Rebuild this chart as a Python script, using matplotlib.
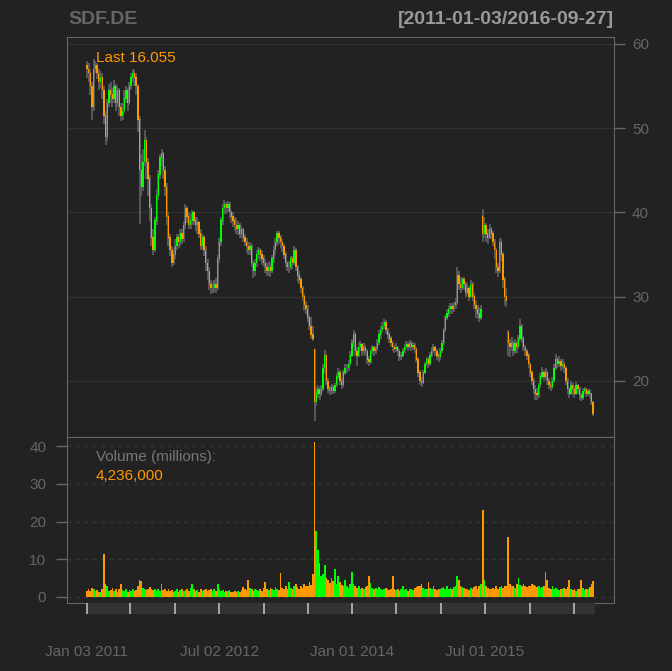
import numpy as np
import pandas as pd
import matplotlib
matplotlib.use("Agg")
import matplotlib.pyplot as plt
import matplotlib.dates as mdates
from matplotlib.transforms import blended_transform_factory

plt.rcParams['font.family'] = ['Liberation Sans', 'DejaVu Sans']

# weekly bars, SDF.DE 2011-01-03 .. 2016-09-27
close = [
    # 2011
    57.0, 56.5, 55.0, 52.5, 57.0, 57.5, 56.5, 55.5, 56.0, 54.5,
    51.5, 49.0, 53.0, 54.5, 54.0, 53.5, 55.0, 53.0, 54.5, 52.5,
    51.5, 52.0, 53.5, 54.5, 53.0, 55.0, 56.0, 56.5, 56.0, 55.0,
    51.0, 45.0, 43.0, 46.0, 48.5, 46.0, 44.0, 40.5, 37.0, 35.5,
    39.0, 42.0, 44.5, 46.5, 47.0, 45.0, 43.0, 39.5, 37.0, 35.5, 34.0, 35.0,
    # 2012
    36.0, 37.0, 36.5, 37.5, 36.8, 38.5, 40.5, 39.5, 38.5, 39.0,
    40.0, 39.0, 38.5, 38.8, 37.5, 36.0, 37.0, 35.5, 34.0, 33.0,
    31.5, 31.0, 31.0, 31.5, 31.0, 34.5, 36.5, 39.0, 40.5, 41.0,
    40.5, 41.0, 40.0, 39.5, 39.0, 38.5, 38.0, 38.5, 37.5, 38.0,
    37.0, 36.5, 36.0, 35.5, 36.0, 34.0, 33.0, 34.0, 35.0, 35.5, 35.0, 34.5,
    # 2013
    34.0, 33.5, 33.0, 33.5, 33.0, 34.5, 35.5, 36.5, 37.5, 37.0,
    36.5, 36.0, 35.0, 34.0, 33.5, 33.5, 34.5, 34.0, 35.5, 33.5,
    32.5, 32.0, 31.0, 30.0, 29.0, 28.5, 27.5, 26.5, 25.5, 25.0,
    17.5, 18.5, 19.0, 18.5, 19.0, 21.5, 23.0, 20.0, 19.0, 18.8,
    19.2, 18.8, 19.5, 20.5, 21.0, 20.0, 19.5, 21.0, 21.5, 21.5, 22.0, 23.0,
    # 2014
    24.5, 25.5, 23.5, 23.0, 24.0, 24.3, 23.5, 24.0, 23.5, 22.5,
    22.3, 23.5, 24.0, 23.5, 23.8, 24.5, 25.5, 26.0, 26.5, 27.0,
    26.0, 25.5, 25.0, 24.5, 24.0, 23.8, 24.0, 23.5, 22.8, 23.0,
    23.5, 24.0, 24.3, 24.0, 24.5, 24.0, 24.2, 23.8, 22.5, 21.0,
    20.0, 19.8, 21.0, 22.0, 22.5, 22.0, 23.0, 23.5, 24.0, 23.5, 23.0, 22.8,
    # 2015
    23.5, 24.5, 26.0, 27.5, 28.0, 28.5, 28.8, 28.5, 29.0, 29.3,
    32.5, 31.5, 31.0, 32.0, 31.5, 30.5, 31.0, 30.0, 31.5, 30.0,
    29.0, 28.5, 28.0, 27.5, 28.5, 37.5, 38.5, 37.5, 37.0, 38.0,
    37.5, 36.5, 35.5, 33.5, 33.0, 36.5, 35.0, 32.0, 30.0, 29.5,
    24.5, 24.0, 24.5, 23.5, 24.5, 24.0, 25.0, 26.5, 25.0, 24.0, 23.5, 23.0,
    # 2016
    22.0, 21.0, 20.0, 19.0, 18.5, 18.3, 19.5, 20.5, 21.0, 20.5,
    21.0, 20.0, 19.5, 19.3, 20.0, 21.5, 22.5, 22.0, 22.3, 21.8,
    22.0, 21.5, 20.0, 19.0, 18.5, 19.5, 19.0, 18.5, 19.5, 19.0,
    18.3, 18.0, 18.8, 19.0, 18.5, 18.8, 18.5, 17.5, 16.055,
]

high = [
    58.0, 57.8, 57.0, 55.5, 58.2, 58.0, 57.8, 57.0, 56.8, 56.5,
    55.0, 52.0, 53.5, 55.2, 55.5, 54.8, 55.7, 55.3, 55.0, 54.8,
    53.0, 53.0, 54.5, 55.0, 54.8, 55.5, 56.5, 57.0, 56.9, 56.5,
    55.2, 51.5, 47.0, 47.5, 49.8, 49.0, 46.5, 44.5, 41.0, 38.0,
    39.5, 42.8, 45.0, 47.0, 47.5, 47.2, 45.5, 43.5, 40.0, 37.5, 36.0, 35.8,
    36.8, 37.5, 37.5, 38.0, 38.0, 39.0, 41.0, 40.8, 40.0, 39.8,
    40.3, 40.2, 39.5, 39.5, 39.0, 38.0, 37.5, 37.3, 36.0, 34.5,
    33.5, 32.0, 31.8, 32.0, 32.2, 35.0, 37.0, 39.5, 41.0, 41.5,
    41.3, 41.4, 41.2, 40.3, 40.0, 39.5, 39.3, 39.0, 38.8, 38.5,
    38.2, 37.5, 37.0, 36.5, 36.5, 36.2, 34.3, 34.5, 35.5, 35.9, 35.8, 35.5,
    35.0, 34.5, 34.0, 34.2, 34.0, 35.0, 36.0, 37.0, 37.8, 37.8,
    37.3, 36.8, 36.3, 35.3, 34.3, 34.2, 34.8, 34.8, 36.0, 35.8,
    33.8, 33.0, 32.3, 31.3, 30.3, 29.5, 29.0, 27.8, 27.6, 26.5,
    23.8, 19.3, 19.5, 19.3, 19.5, 22.0, 23.7, 23.2, 20.3, 19.4,
    19.6, 19.5, 19.8, 21.0, 21.5, 21.3, 20.3, 21.3, 22.0, 22.0, 22.5, 23.5,
    25.0, 26.1, 25.8, 24.0, 24.5, 24.7, 24.5, 24.5, 24.3, 23.8,
    23.0, 23.8, 24.3, 24.2, 24.2, 25.0, 26.0, 26.5, 27.0, 27.4,
    27.2, 26.3, 25.8, 25.3, 24.8, 24.3, 24.5, 24.2, 23.8, 23.4,
    23.9, 24.4, 24.8, 24.6, 24.9, 24.8, 24.6, 24.5, 24.0, 22.8,
    21.3, 20.5, 21.3, 22.3, 22.9, 22.8, 23.4, 24.0, 24.4, 24.2, 23.8, 23.3,
    23.9, 24.9, 26.3, 27.8, 28.5, 28.9, 29.3, 29.2, 29.4, 29.8,
    33.5, 33.0, 32.2, 32.4, 32.3, 31.8, 31.6, 31.3, 32.0, 31.8,
    30.4, 29.6, 29.0, 28.8, 29.0, 40.4, 39.5, 38.8, 38.0, 38.6,
    38.3, 37.8, 36.8, 35.8, 34.0, 37.0, 36.8, 35.3, 32.3, 31.0,
    26.0, 25.0, 25.2, 24.8, 25.0, 24.8, 25.5, 27.4, 26.8, 25.3, 24.3, 23.8,
    23.3, 22.3, 21.3, 20.3, 19.5, 19.2, 19.8, 21.0, 21.7, 21.3,
    21.5, 21.2, 20.3, 19.9, 20.5, 22.0, 23.2, 22.8, 23.0, 22.6,
    22.6, 22.3, 21.8, 20.3, 19.3, 20.0, 19.8, 19.4, 19.9, 19.7,
    19.3, 18.6, 19.2, 19.3, 19.2, 19.1, 19.0, 18.6, 17.6,
]

low = [
    56.0, 55.5, 54.0, 51.0, 52.0, 56.5, 55.8, 54.5, 54.8, 53.5,
    50.5, 48.0, 48.5, 52.5, 53.0, 52.5, 53.0, 52.0, 52.5, 51.5,
    50.8, 51.0, 51.8, 53.0, 52.0, 52.8, 54.5, 55.5, 55.0, 54.0,
    49.5, 38.6, 42.0, 42.5, 45.5, 44.0, 42.0, 39.0, 36.0, 35.0,
    35.3, 38.5, 41.5, 44.0, 45.5, 44.0, 42.0, 38.5, 36.0, 34.8, 33.5, 33.8,
    34.5, 35.5, 35.8, 36.0, 36.2, 36.5, 38.0, 38.8, 38.0, 38.0,
    38.5, 38.5, 37.8, 37.5, 37.0, 35.5, 35.5, 34.8, 33.0, 32.0,
    30.8, 30.3, 30.4, 30.6, 30.5, 30.8, 34.0, 36.0, 38.5, 39.8,
    39.8, 40.0, 39.3, 38.8, 38.3, 37.8, 37.5, 37.3, 37.0, 37.0,
    36.5, 36.0, 35.3, 35.0, 35.0, 33.5, 32.2, 32.5, 33.5, 34.5, 34.2, 33.8,
    33.5, 32.8, 32.5, 32.5, 32.3, 32.8, 34.0, 35.0, 36.0, 36.3,
    35.8, 35.3, 34.5, 33.5, 33.0, 32.8, 33.2, 33.3, 33.8, 33.0,
    31.8, 31.5, 30.5, 29.5, 28.3, 28.0, 27.0, 26.0, 25.0, 24.8,
    15.2, 17.0, 18.0, 17.8, 18.2, 18.8, 21.0, 19.5, 18.6, 18.3,
    18.5, 18.4, 18.6, 19.3, 20.2, 19.5, 19.0, 19.3, 20.7, 21.0, 21.2, 21.8,
    22.8, 24.0, 23.0, 21.8, 22.8, 23.5, 23.0, 23.2, 23.0, 22.0,
    21.8, 22.0, 23.2, 23.0, 23.2, 23.5, 24.3, 25.0, 25.7, 26.2,
    25.6, 25.0, 24.5, 24.0, 23.5, 23.3, 23.4, 23.0, 22.4, 22.5,
    22.8, 23.3, 23.8, 23.6, 23.8, 23.6, 23.7, 23.3, 22.2, 20.5,
    19.5, 19.3, 19.6, 20.8, 21.8, 21.5, 21.8, 22.8, 23.3, 23.0, 22.5, 22.3,
    22.5, 23.3, 24.3, 25.8, 27.2, 27.6, 28.0, 28.0, 28.2, 28.6,
    29.0, 30.8, 30.5, 30.8, 30.8, 30.0, 30.2, 29.5, 29.8, 29.5,
    28.5, 27.5, 27.3, 27.0, 27.2, 36.5, 37.0, 36.5, 36.3, 36.8,
    36.8, 36.0, 34.5, 32.8, 32.4, 32.8, 34.3, 31.0, 29.0, 28.8,
    23.0, 22.9, 23.5, 23.0, 23.2, 23.3, 23.8, 24.8, 24.5, 23.5, 23.0, 22.5,
    21.5, 20.5, 19.5, 18.5, 17.8, 17.8, 18.0, 19.2, 20.2, 20.0,
    20.2, 19.5, 19.0, 18.8, 19.0, 19.8, 21.3, 21.5, 21.7, 21.2,
    21.4, 21.0, 19.5, 18.5, 18.0, 18.3, 18.3, 18.0, 18.3, 18.5,
    17.8, 17.6, 17.8, 18.4, 18.1, 18.2, 18.0, 17.2, 15.9,
]

# opens follow the previous close except where the chart shows a gap
gap_open = {0: 57.5, 134: 23.8, 233: 39.5, 248: 25.8}

# volume in millions
volume = [
    1.5, 2.0, 1.6, 2.5, 2.2, 1.5, 1.8, 1.4, 1.3, 2.0,
    11.5, 3.5, 2.8, 1.6, 1.8, 2.4, 1.5, 2.0, 1.4, 2.2,
    3.5, 1.8, 1.6, 2.0, 1.4, 1.8, 1.6, 2.2, 1.5, 1.8,
    2.8, 4.6, 4.2, 2.5, 2.0, 1.8, 2.2, 2.6, 2.0, 1.8,
    2.2, 1.6, 2.0, 1.5, 3.5, 1.8, 2.0, 1.6, 2.2, 1.5, 1.8, 1.4,
    1.6, 2.0, 1.4, 1.8, 2.2, 1.5, 1.8, 2.0, 1.6, 2.4,
    3.5, 2.0, 1.6, 1.8, 1.4, 2.0, 1.5, 1.8, 2.2, 1.6,
    1.8, 2.0, 1.5, 2.2, 1.6, 3.5, 2.0, 1.6, 1.8, 1.4,
    1.6, 1.5, 1.8, 1.3, 1.4, 1.6, 1.2, 1.5, 1.4, 1.8,
    2.7, 2.0, 1.8, 4.5, 2.4, 2.0, 1.6, 2.2, 1.8, 1.5, 2.0, 1.6,
    2.4, 4.0, 2.2, 1.8, 2.5, 2.0, 1.8, 2.6, 2.2, 1.8,
    6.3, 2.5, 2.0, 2.8, 2.2, 4.0, 2.4, 2.0, 3.0, 3.5,
    2.6, 2.2, 3.0, 2.5, 3.5, 2.8, 3.0, 4.0, 3.2, 6.0,
    41.0, 17.5, 12.5, 9.0, 5.5, 6.0, 8.5, 5.0, 4.5, 3.8,
    5.0, 4.2, 7.5, 3.5, 5.5, 4.0, 3.2, 2.8, 4.5, 3.0, 2.5, 3.5,
    6.5, 3.5, 3.0, 2.5, 2.8, 2.2, 2.5, 2.0, 2.6, 3.0,
    5.5, 3.8, 2.5, 2.0, 2.4, 2.0, 2.6, 2.2, 1.8, 2.0,
    2.4, 2.0, 1.8, 2.2, 5.5, 2.0, 1.8, 2.2, 1.6, 2.0,
    3.0, 1.8, 2.0, 1.6, 2.2, 2.0, 1.8, 2.4, 2.6, 3.0,
    2.8, 3.5, 2.4, 2.2, 2.0, 4.0, 2.5, 2.2, 2.8, 2.0, 1.8, 2.2,
    2.0, 2.4, 2.6, 2.2, 2.8, 2.0, 2.4, 2.2, 2.6, 3.0,
    5.5, 4.5, 3.0, 2.6, 2.4, 2.0, 2.2, 1.8, 2.4, 2.0,
    2.6, 2.8, 2.2, 3.0, 3.5, 23.0, 4.5, 3.0, 2.5, 2.2,
    2.0, 2.4, 2.2, 2.8, 2.0, 2.6, 3.0, 2.4, 2.8, 3.0,
    16.0, 3.5, 2.8, 3.0, 2.4, 3.5, 5.0, 3.2, 2.8, 3.5, 3.0, 2.6,
    3.0, 2.8, 3.5, 3.2, 3.0, 2.6, 2.8, 2.4, 2.6, 3.0,
    6.5, 4.5, 2.4, 2.0, 2.8, 2.2, 2.4, 2.0, 1.8, 2.2,
    2.0, 2.4, 2.0, 2.6, 4.5, 2.2, 1.8, 2.0, 1.6, 2.2,
    2.0, 4.5, 2.4, 1.8, 2.2, 2.0, 2.6, 3.5, 4.2,
]

label_dates = ['2011-01-03', '2012-07-02', '2014-01-01', '2015-07-01']
label_text = ['Jan 03 2011', 'Jul 02 2012', 'Jan 01 2014', 'Jul 01 2015']
minor_dates = ['2011-01-03', '2011-07-01', '2012-01-02', '2012-07-02',
               '2013-01-02', '2013-07-01', '2014-01-01', '2014-07-01',
               '2015-01-02', '2015-07-01', '2016-01-04', '2016-07-01']

n = len(close)
dates = mdates.date2num(pd.date_range('2011-01-03', periods=n, freq='7D'))
opn = np.array([gap_open.get(i, close[i - 1] if i > 0 else close[0]) for i in range(n)])
cl = np.array(close)
hi = np.array(high)
lo = np.array(low)
vol = np.array(volume)

BG = '#222222'
UP = '#00ff00'
DN = '#ff9900'
FG = '#666666'
cols = np.where(cl >= opn, UP, DN)

fig = plt.figure(figsize=(6.72, 6.71), dpi=100, facecolor=BG)
W, H = 672.0, 671.0
ax = fig.add_axes([67 / W, (H - 437) / H, 547 / W, 400 / H], facecolor=BG)
axv = fig.add_axes([67 / W, (H - 603) / H, 547 / W, 166 / H], facecolor=BG, sharex=ax)
axb = fig.add_axes([67 / W, (H - 614) / H, 547 / W, 11 / H], facecolor=BG, sharex=ax)

x0 = mdates.date2num(pd.Timestamp('2011-01-03'))
x1 = mdates.date2num(pd.Timestamp('2016-09-27'))
ax.set_xlim(x0 - 82, x1 + 78)

# price pane
for yv in [20, 30, 40, 50, 60]:
    ax.axhline(yv, color='#303030', lw=1, zorder=0)
ax.vlines(dates, lo, hi, color=FG, lw=1.1, zorder=1)
ax.bar(dates, np.abs(cl - opn) + 0.05, bottom=np.minimum(cl, opn), width=5.5,
       color=cols, linewidth=0, zorder=2)
ax.set_ylim(13.35, 60.83)
ax.yaxis.tick_right()
ax.set_yticks([20, 30, 40, 50, 60])
ax.tick_params(axis='y', colors=FG, labelcolor=FG, labelsize=11, length=8, width=1, pad=5)
ax.tick_params(axis='x', bottom=False, labelbottom=False)
for s in ax.spines.values():
    s.set_color(FG)
fig.text(96 / W, 1 - 58 / H, 'Last 16.055', color=DN, fontsize=11, va='center', ha='left')

# volume pane
for yv in [0, 10, 20, 30, 40]:
    axv.axhline(yv, color='#333333', lw=1, ls=(0, (3, 3)), zorder=0)
axv.bar(dates, vol, width=7, color=cols, linewidth=0, align='center', zorder=2)
axv.set_ylim(-1.6, 42.4)
axv.set_yticks([0, 10, 20, 30, 40])
axv.tick_params(axis='y', colors=FG, labelcolor=FG, labelsize=11, length=8, width=1, pad=7)
axv.tick_params(axis='x', bottom=False, labelbottom=False)
for s in axv.spines.values():
    s.set_color(FG)
fig.text(96 / W, 1 - 457 / H, 'Volume (millions):', color='#777777', fontsize=11, va='center')
fig.text(96 / W, 1 - 476 / H, '4,236,000', color=DN, fontsize=11, va='center')

# date band under the volume pane
axb.axvspan(x0, x1, color='#333333', lw=0)
axb.vlines(mdates.date2num(pd.to_datetime(minor_dates)), 0, 1, color='#bbbbbb', lw=1.2)
axb.set_ylim(0, 1)
axb.axis('off')
tr = blended_transform_factory(axb.transData, fig.transFigure)
for d, t in zip(mdates.date2num(pd.to_datetime(label_dates)), label_text):
    axb.text(d, 1 - 652 / H, t, transform=tr, color=FG, fontsize=11, ha='center', va='center')

fig.text(68 / W, 1 - 20 / H, 'SDF.DE', color='#666666', fontsize=14, fontweight='bold', va='center')
fig.text(614 / W, 1 - 20 / H, '[2011-01-03/2016-09-27]', color='#999999', fontsize=14,
         fontweight='bold', va='center', ha='right')

fig.savefig('out.png', dpi=100, facecolor=BG)
